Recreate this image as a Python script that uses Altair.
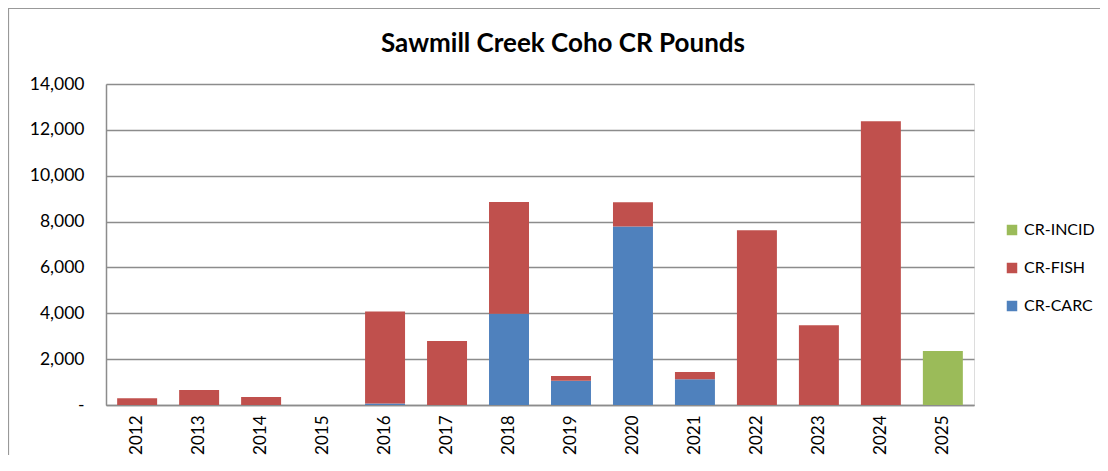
import altair as alt
import pandas as pd

years = ["2012", "2013", "2014", "2015", "2016", "2017", "2018",
         "2019", "2020", "2021", "2022", "2023", "2024", "2025"]
cr_carc = [0, 0, 0, 0, 60, 0, 3980, 1060, 7780, 1120, 0, 0, 0, 0]
cr_fish = [290, 650, 350, 0, 4020, 2790, 4870, 200, 1060, 320, 7620, 3480, 12370, 0]
cr_incid = [0, 0, 0, 0, 0, 0, 0, 0, 0, 0, 0, 0, 0, 2350]

series = ["CR-INCID", "CR-FISH", "CR-CARC"]
colors = ["#9BBB59", "#C0504D", "#4F81BD"]
stack_rank = {"CR-CARC": 0, "CR-FISH": 1, "CR-INCID": 2}
chart_title = "Sawmill Creek Coho CR Pounds"

rows = []
for name, vals in [("CR-CARC", cr_carc), ("CR-FISH", cr_fish), ("CR-INCID", cr_incid)]:
    for y, v in zip(years, vals):
        rows.append({"Year": y, "Series": name, "Pounds": v, "rank": stack_rank[name]})
df = pd.DataFrame(rows)

FONT = "Lato"
GRAY = "#8c8c8c"

bars = alt.Chart(df).mark_bar(stroke=None).encode(
    x=alt.X("Year:N", sort=years,
            scale=alt.Scale(paddingInner=0.355, paddingOuter=0.18),
            axis=alt.Axis(title=None, labelAngle=-90, labelFontSize=17, labelFont=FONT,
                          labelColor="#000", labelPadding=10, ticks=False,
                          domainColor=GRAY, domainWidth=1.5, labelBaseline="middle",
                          labelAlign="right")),
    y=alt.Y("sum(Pounds):Q", stack="zero",
            scale=alt.Scale(domain=[0, 14000], nice=False),
            axis=alt.Axis(title=None, values=list(range(0, 14001, 2000)),
                          labelExpr="datum.value == 0 ? '-\u00a0\u00a0\u00a0' : format(datum.value, ',')",
                          labelFontSize=17.5, labelFont=FONT, labelColor="#000",
                          labelPadding=22, ticks=False, domainColor=GRAY, domainWidth=1.5,
                          gridColor=GRAY, gridWidth=1.5)),
    color=alt.Color("Series:N",
                    scale=alt.Scale(domain=series, range=colors),
                    legend=alt.Legend(title=None, orient="none", legendX=898, legendY=138,
                                      symbolType="square", symbolSize=110,
                                      symbolStrokeWidth=0, labelFontSize=16,
                                      labelFont=FONT, labelColor="#000",
                                      rowPadding=22, labelOffset=4)),
    order=alt.Order("rank:Q", sort="ascending"),
)

border = alt.Chart(pd.DataFrame({"a": [0]})).mark_rect(
    fill=None, stroke="#999999", strokeWidth=1.2
).encode(
    x=alt.value(-97.5), x2=alt.value(1020),
    y=alt.value(-75.5), y2=alt.value(420),
)

title = alt.Chart(pd.DataFrame({"t": [chart_title]})).mark_text(
    font=FONT, fontSize=26, fontWeight="bold", color="#000",
    align="center", baseline="middle"
).encode(
    x=alt.value(457), y=alt.value(-40), text="t:N"
)

chart = alt.layer(border, bars, title).properties(
    width=868, height=321,
    autosize=alt.AutoSizeParams(type="none"),
    padding={"left": 98, "top": 76, "right": 126, "bottom": 50},
).configure_view(stroke=None).configure(background="white")

chart.save("out.html", embed_options={"renderer": "svg", "actions": False})
